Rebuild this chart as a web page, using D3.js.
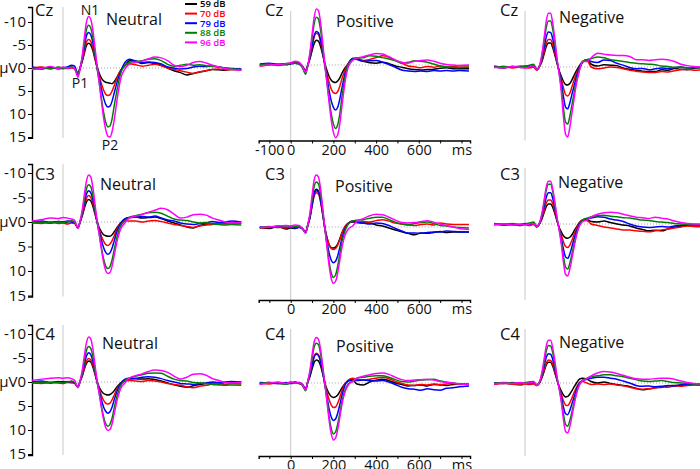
<!DOCTYPE html>
<html><head><meta charset="utf-8">
<script src="https://cdn.jsdelivr.net/npm/d3@7"></script>
<style>body{margin:0;background:#fff} text{font-family:"Open Sans",sans-serif}</style>
</head><body><svg id="c" width="700" height="469"></svg>
<script>
// ---- data (µV; negative plotted upward) ----
const times = [-145,-100,-60,-20,0,20,40,55,70,80,90,100,110,120,130,140,150,160,170,180,190,200,210,220,230,240,255,270,290,310,340,370,400,430,460,490,520,550,580,610,640,670,700,730,760,790,835];
const levels = ["59 dB","70 dB","79 dB","88 dB","96 dB"];
const electrodes = ["Cz","C3","C4"];
const conditions = ["Neutral","Positive","Negative"];
const yTickValues = [-10,-5,0,5,10,15];
const xTickLabels = [0,200,400,600];

const czNeutral = [
 [0.1,0.2,-0.1,0.0,0.1,-0.1,-0.2,0.2, 1.2,0.0,-1.4,-3.2,-4.9,-5.4,-5.0,-3.8,-1.9, -0.2,1.2,2.2,2.8,3.1,3.2,3.3,3.4,3.0,1.8,0.5, -0.5,-1.6,-1.5,-1.0,-1.2,-1.0,-0.6,0.0,0.6,1.0,1.5,1.2,0.9,0.6,0.3,0.4,0.5,0.3,0.3],
 [0.0,-0.2,0.1,-0.1,0.0,0.1,0.0,0.1, 1.0,0.0,-1.6,-3.7,-5.6,-6.2,-5.8,-4.4,-2.2, 0.0,1.8,3.4,4.8,5.7,6.0,5.8,5.0,3.8,1.9,0.5, -0.5,-0.9,-0.7,-0.4,-0.6,-0.8,-0.5,0.0,0.3,0.6,0.9,1.2,0.8,0.6,0.3,0.2,0.4,0.3,0.4],
 [-0.2,0.1,-0.1,0.2,0.0,-0.2,-0.6,-0.4, 1.5,0.0,-1.9,-4.6,-7.0,-7.7,-7.2,-5.5,-2.8, 0.0,2.3,4.6,6.5,7.9,8.5,8.3,7.2,5.4,2.8,0.8, -1.2,-1.9,-1.5,-1.2,-1.3,-1.2,-0.9,-0.2,0.0,0.2,0.1,-0.2,-0.4,-0.3,-0.5,-0.2,0.0,0.1,0.2],
 [0.1,-0.1,0.2,-0.2,0.1,0.0,-0.2,0.1, 1.3,0.0,-2.3,-5.6,-8.4,-9.3,-8.7,-6.6,-3.3, 0.2,3.3,6.6,9.6,11.8,12.8,12.6,11.0,8.2,4.3,1.2, -0.6,-1.2,-1.4,-1.6,-1.9,-2.0,-1.6,-0.8,-0.4,-0.6,-0.8,-0.6,-0.7,-0.5,-0.3,-0.2,0.0,0.2,0.3],
 [0.3,0.1,-0.3,0.1,-0.2,0.0,-0.1,0.2, 2.0,0.3,-2.6,-6.6,-10.0,-11.2,-10.6,-8.2,-4.4, -0.3,3.2,7.2,10.8,13.4,14.8,15.0,13.8,11.2,6.4,2.4, 0.2,-0.8,-1.2,-1.5,-2.0,-2.4,-2.2,-1.6,-0.6,-0.3,-0.6,-1.2,-1.4,-1.1,-0.6,-0.2,0.1,0.3,0.5]
];
const czPositive = [
 [0.1,-0.2,0.0,-0.3,-0.4,-0.6,-0.4,0.3, 1.2,0.1,-1.3,-3.1,-4.7,-5.4,-5.2,-4.0,-2.2, -0.3,1.2,2.5,3.3,3.7,3.8,3.5,2.8,1.8,0.6,-0.3, -1.2,-1.3,-0.8,-0.5,-0.4,-0.6,-0.3,0.2,0.5,0.8,1.0,1.1,1.0,0.9,0.7,0.6,0.8,0.8,0.8],
 [0.2,0.0,-0.2,0.0,-0.3,-0.5,-0.3,0.2, 1.2,0.0,-1.6,-4.0,-6.1,-6.9,-6.6,-5.0,-2.6, 0.0,2.0,3.8,5.2,6.0,6.2,5.8,4.6,3.0,1.0,-0.4, -1.4,-1.6,-1.0,-1.2,-1.6,-2.0,-1.7,-1.0,-0.4,0.2,0.4,0.6,0.3,0.5,0.2,0.4,0.3,0.2,0.2],
 [-0.2,-0.4,-0.1,-0.3,-0.2,-0.4,-0.2,0.4, 1.4,0.0,-1.7,-4.2,-6.4,-7.3,-7.0,-5.4,-2.8, 0.0,2.8,5.6,7.8,9.2,9.8,9.2,7.4,5.0,1.8,-0.2, -1.4,-1.2,-0.8,-0.9,-1.0,-0.6,-0.1,0.5,1.1,1.3,1.4,1.3,1.4,1.2,1.3,1.2,1.3,1.2,1.3],
 [0.0,-0.2,0.1,-0.2,-0.3,-0.4,-0.2,0.6, 2.0,0.2,-2.3,-5.7,-9.0,-10.4,-10.0,-7.6,-3.8, 0.2,3.8,7.4,10.6,12.8,13.8,13.0,10.6,7.0,2.6,-0.2, -1.2,-1.5,-1.6,-2.0,-1.9,-1.6,-1.3,-0.9,-0.4,-0.6,-0.9,-0.8,-0.6,-0.2,0.2,0.4,0.5,0.6,0.5],
 [0.2,0.0,-0.1,-0.3,-0.5,-0.8,-0.6,0.3, 1.6,0.2,-2.7,-6.6,-10.4,-12.2,-11.8,-9.2,-4.8, -0.2,4.0,8.2,12.0,14.6,15.8,15.2,12.8,9.0,3.6,0.4, -1.0,-1.5,-1.8,-2.2,-2.5,-2.4,-1.8,-1.1,-0.6,-0.4,-0.8,-1.0,-1.1,-0.8,-0.4,-0.1,0.0,0.1,0.0]
];
const czNegative = [
 [0.0,0.2,-0.1,0.1,0.0,-0.2,0.0,0.6, -0.3,-1.3,-2.9,-4.5,-5.2,-5.2,-4.2,-2.6,-0.8, 0.8,2.0,3.1,3.8,3.9,3.6,2.8,1.8,0.9,-0.3,-1.2, -1.6,-0.6,-0.2,-0.5,-0.4,-0.3,0.2,0.5,0.7,0.9,1.0,1.0,0.6,0.7,0.3,0.5,0.6,0.3,0.1],
 [0.1,-0.1,0.2,0.0,0.1,0.2,0.0,0.7, -0.3,-1.5,-3.4,-5.2,-6.0,-6.0,-4.9,-3.0,-0.9, 0.9,2.6,4.5,6.0,6.3,5.7,4.3,2.8,1.5,0.1,-1.2, -1.4,0.0,0.4,0.2,0.0,0.1,0.4,0.7,0.9,1.1,1.2,1.2,1.0,1.1,0.8,0.6,0.5,0.7,0.6],
 [-0.2,0.1,-0.1,0.0,-0.2,0.0,-0.3,0.5, -0.4,-2.0,-4.3,-6.6,-7.6,-7.5,-6.1,-3.8,-1.2, 0.9,3.2,6.4,8.7,9.1,7.8,5.9,4.1,2.2,0.3,-1.0, -1.6,-1.2,-1.0,-1.5,-1.4,-0.8,-0.4,0.1,0.4,0.3,0.6,0.4,0.2,0.3,0.1,0.0,0.2,0.1,0.0],
 [0.1,-0.1,0.0,-0.2,-0.1,-0.4,-0.6,0.4, -0.5,-2.6,-5.6,-8.7,-10.0,-10.0,-8.2,-5.1,-1.5, 1.3,4.4,8.8,12.0,12.4,10.7,8.2,5.7,3.2,0.6,-1.2, -1.6,-1.8,-2.2,-2.0,-1.6,-1.4,-1.2,-1.0,-0.8,-0.7,-0.6,-0.5,-0.2,-0.1,0.1,0.0,0.2,0.1,0.2],
 [0.0,0.2,-0.1,0.1,0.2,0.0,-0.2,0.6, -0.6,-3.0,-6.5,-10.1,-11.7,-11.7,-9.5,-6.0,-1.8, 1.5,5.4,10.8,14.6,15.2,13.1,10.0,6.9,3.9,0.8,-1.2, -1.2,-2.0,-3.0,-2.8,-2.6,-2.5,-2.5,-2.3,-1.6,-1.6,-1.4,-1.6,-1.7,-1.6,-1.2,-0.6,-0.3,-0.1,0.0]
];
const c3Neutral = [
 [0.1,0.0,0.2,-0.1,0.1,0.0,-0.2,0.1, 1.2,0.0,-1.2,-2.8,-4.1,-4.6,-4.3,-3.2,-1.6, 0.0,1.2,2.0,2.6,2.8,2.9,2.9,2.6,2.0,1.0,0.2, -0.6,-0.9,-1.0,-0.8,-0.9,-1.0,-0.7,-0.2,0.2,0.6,1.0,1.2,0.7,0.5,0.3,0.4,0.2,0.3,0.2],
 [0.2,0.3,0.0,0.3,0.2,0.4,0.2,0.3, 1.2,0.0,-1.4,-3.2,-4.8,-5.4,-5.0,-3.8,-1.9, 0.0,1.5,2.9,3.9,4.6,4.8,4.5,3.8,2.8,1.2,0.2, -0.3,-0.2,-0.2,0.0,-0.2,-0.3,-0.1,0.2,0.5,0.7,0.9,1.1,0.8,0.6,0.5,0.3,0.4,0.2,0.3],
 [0.0,-0.2,0.1,-0.1,0.0,-0.2,0.0,0.2, 1.1,0.0,-1.6,-3.8,-5.7,-6.4,-6.0,-4.5,-2.3, 0.0,1.9,3.7,5.2,6.2,6.6,6.3,5.3,3.8,1.7,0.3, -0.7,-0.9,-1.0,-1.1,-1.0,-1.2,-0.8,-0.4,-0.2,0.2,0.4,0.5,0.3,0.2,-0.1,0.1,0.0,-0.2,0.0],
 [0.1,0.0,0.2,0.0,0.1,-0.1,-0.2,0.1, 1.2,0.0,-1.9,-4.5,-6.8,-7.6,-7.2,-5.4,-2.7, 0.1,2.5,5.2,7.5,9.0,9.5,9.1,7.7,5.6,2.7,0.8, -0.2,-0.9,-1.3,-1.6,-1.9,-2.0,-1.8,-1.2,-0.6,-0.4,-0.3,0.0,0.2,0.1,0.4,0.5,0.6,0.5,0.6],
 [-0.2,-0.5,-0.8,-0.7,-0.9,-0.8,-0.6,-0.3, 1.3,-0.2,-2.4,-5.6,-8.4,-9.6,-9.2,-7.0,-3.6, -0.2,2.6,5.6,8.2,9.9,10.5,10.3,9.0,6.8,3.6,1.4, 0.2,-0.8,-1.2,-1.5,-2.0,-2.4,-2.8,-2.5,-1.6,-0.8,-1.0,-1.5,-1.6,-1.4,-0.8,-0.4,0.0,0.2,0.1]
];
const c3Positive = [
 [0.1,0.3,-0.1,0.4,0.2,0.3,0.0,0.4, 1.0,-0.4,-2.0,-4.6,-6.9,-7.7,-7.3,-5.6,-2.8, 0.2,2.2,3.6,4.2,4.3,4.1,3.5,2.4,1.2,-0.1,-0.8, -1.0,-0.9,-0.8,-0.8,-0.4,-0.2,0.2,0.6,1.0,1.3,1.6,1.2,1.3,1.1,0.9,1.1,1.0,1.0,1.0],
 [0.2,0.1,0.0,0.2,-0.1,0.1,0.0,0.3, 1.0,-0.3,-1.8,-4.2,-6.3,-7.0,-6.7,-5.1,-2.5, 0.2,2.2,3.7,4.4,4.6,4.4,3.7,2.6,1.3,-0.1,-0.8, -1.2,-0.9,-1.1,-1.0,-1.3,-1.5,-1.2,-0.8,-0.6,-0.4,-0.3,-0.5,-0.6,-0.4,-0.8,-0.6,-0.5,-0.5,-0.5],
 [0.0,0.1,-0.2,0.1,0.0,0.2,0.1,0.4, 1.0,-0.3,-1.9,-4.4,-6.7,-7.4,-7.1,-5.4,-2.7, 0.3,3.0,5.3,6.8,7.3,7.0,5.9,4.2,2.3,0.3,-0.7, -1.2,-1.0,-0.8,-0.6,-0.8,-0.7,-0.3,0.3,0.8,1.2,1.2,1.3,1.1,1.0,1.0,0.8,0.9,1.0,1.0],
 [0.2,-0.1,0.1,0.0,0.1,-0.1,0.0,0.3, 1.3,-0.4,-2.4,-5.5,-8.3,-9.2,-8.8,-6.7,-3.3, 0.3,3.8,7.1,9.4,10.3,9.8,8.0,5.5,3.0,0.7,-0.6, -1.2,-1.4,-1.5,-1.8,-2.0,-2.0,-1.5,-1.0,-0.6,-0.5,-0.7,-0.9,-1.0,-0.7,-0.3,-0.2,0.0,0.1,0.2],
 [0.1,0.0,-0.2,-0.3,-0.2,-0.4,-0.3,0.3, 1.2,-0.5,-2.8,-6.4,-9.6,-10.6,-10.2,-7.8,-3.9, 0.2,4.0,7.9,10.5,11.5,11.1,9.4,6.8,4.2,1.6,0.4, -0.2,-1.2,-1.7,-2.3,-2.6,-2.5,-2.0,-1.4,-0.9,-0.8,-0.9,-1.1,-1.3,-1.0,-0.6,-0.3,0.0,0.3,0.5]
];
const c3Negative = [
 [0.0,0.2,0.1,0.3,0.0,0.1,0.0,0.6, -0.2,-1.1,-2.4,-3.6,-4.1,-4.1,-3.4,-2.1,-0.6, 0.7,1.6,2.4,2.8,2.9,2.7,2.2,1.4,0.7,-0.3,-0.8, -0.9,-0.5,-0.4,-0.6,-0.3,0.0,0.2,0.4,0.8,1.1,1.4,1.3,1.4,1.0,0.6,0.5,0.3,0.2,0.2],
 [0.2,0.0,0.2,0.0,0.1,0.3,0.1,0.5, -0.2,-1.3,-2.8,-4.3,-4.9,-4.9,-4.1,-2.5,-0.7, 0.8,2.2,3.6,4.6,4.8,4.3,3.3,2.1,1.0,-0.2,-0.8, -0.7,0.0,0.3,0.6,0.8,1.0,1.2,1.2,1.4,1.5,1.6,1.4,1.2,1.0,0.8,0.6,0.4,0.5,0.6],
 [-0.1,0.1,0.0,0.2,-0.1,0.0,-0.2,0.5, -0.3,-1.7,-3.6,-5.5,-6.4,-6.4,-5.2,-3.2,-0.9, 0.9,2.9,5.1,6.7,7.0,6.1,4.6,3.0,1.6,0.0,-0.8, -1.0,-1.2,-1.5,-1.4,-1.0,-0.8,-0.5,0.0,0.4,0.6,0.7,0.6,0.5,0.6,0.4,0.3,0.2,0.1,0.2],
 [0.0,0.1,-0.1,0.2,0.0,-0.2,-0.4,0.4, -0.4,-2.1,-4.5,-7.0,-8.1,-8.1,-6.6,-4.0,-1.1, 1.0,3.6,6.6,8.8,9.2,8.0,6.1,4.1,2.2,0.3,-0.8, -1.2,-1.5,-1.7,-1.8,-1.6,-1.5,-1.3,-1.2,-1.0,-0.8,-0.7,-0.5,-0.4,-0.3,-0.1,0.0,0.1,0.2,0.1],
 [0.1,0.0,0.2,0.1,0.2,0.0,-0.1,0.5, -0.5,-2.3,-5.0,-7.6,-8.7,-8.7,-7.1,-4.4,-1.3, 1.2,4.1,7.8,10.3,10.6,9.2,7.0,4.7,2.6,0.4,-0.5, -0.8,-1.4,-2.0,-2.3,-2.4,-2.3,-2.0,-1.7,-1.4,-1.3,-1.1,-1.4,-1.2,-1.0,-0.6,-0.3,-0.1,0.0,0.0]
];
const c4Neutral = [
 [0.1,0.0,0.2,-0.1,0.1,-0.1,0.0,0.2, 1.0,-0.2,-1.2,-2.7,-3.9,-4.4,-4.2,-3.1,-1.6, 0.0,1.1,1.9,2.4,2.6,2.7,2.6,2.3,1.8,0.9,0.2, -0.4,-0.6,-0.7,-0.6,-0.7,-0.5,-0.2,0.2,0.6,0.9,1.1,0.8,0.5,0.3,0.2,0.4,0.1,0.2,0.1],
 [0.2,0.3,0.1,0.2,0.3,0.1,0.2,0.3, 1.0,-0.1,-1.3,-2.9,-4.3,-4.9,-4.6,-3.5,-1.8, 0.0,1.5,2.8,3.8,4.4,4.6,4.4,3.7,2.7,1.2,0.3, -0.2,-0.3,-0.2,-0.1,-0.3,-0.2,0.0,0.3,0.5,0.7,1.0,1.2,0.9,0.7,0.4,0.3,0.5,0.3,0.4],
 [0.0,-0.2,0.1,0.0,-0.1,0.0,-0.1,0.2, 1.0,-0.1,-1.5,-3.6,-5.4,-6.1,-5.7,-4.3,-2.2, 0.0,1.9,3.7,5.2,6.1,6.5,6.2,5.2,3.7,1.7,0.3, -0.6,-0.8,-0.8,-1.0,-1.1,-1.0,-0.7,-0.3,0.0,0.3,0.4,0.5,0.3,0.2,0.0,0.1,0.0,-0.1,0.0],
 [0.2,0.0,0.1,0.1,0.2,0.0,-0.2,0.1, 1.1,-0.1,-1.8,-4.4,-6.6,-7.4,-7.0,-5.3,-2.6, 0.1,2.4,5.0,7.2,8.7,9.2,8.8,7.5,5.4,2.6,0.8, -0.3,-0.8,-1.2,-1.5,-1.8,-1.9,-1.8,-1.2,-0.6,-0.3,-0.2,0.1,0.2,0.3,0.5,0.6,0.7,0.6,0.7],
 [-0.3,-0.6,-0.8,-0.9,-0.8,-0.9,-0.7,-0.3, 1.2,-0.3,-2.4,-5.5,-8.2,-9.4,-9.0,-6.9,-3.5, -0.2,2.5,5.4,7.8,9.5,10.1,9.9,8.7,6.6,3.5,1.4, 0.2,-0.8,-1.3,-1.7,-2.2,-2.5,-2.4,-2.0,-1.2,-0.6,-1.0,-1.6,-1.7,-1.4,-0.7,-0.3,0.1,0.2,0.1]
];
const c4Positive = [
 [0.2,-0.1,0.1,0.2,0.0,-0.2,0.1,0.4, 1.2,-0.2,-1.3,-2.9,-4.3,-4.8,-4.6,-3.6,-1.9, 0.0,1.3,2.2,2.8,3.0,2.9,2.5,1.8,1.0,0.1,-0.4, -0.6,0.2,0.4,-0.2,-0.6,-0.8,-0.5,0.0,0.3,0.6,0.5,0.4,0.6,0.3,0.4,0.5,0.3,0.2,0.3],
 [0.0,0.2,-0.1,0.1,-0.2,0.0,0.1,0.3, 1.3,-0.3,-1.8,-3.8,-5.6,-6.2,-5.9,-4.6,-2.3, 0.1,1.9,3.5,4.6,5.1,5.0,4.2,3.0,1.6,0.1,-0.6, -1.0,-0.8,-0.6,-0.8,-1.0,-1.2,-0.9,-0.3,0.1,0.4,0.5,0.3,0.4,0.2,0.3,0.2,0.1,0.3,0.2],
 [-0.1,0.0,0.1,-0.1,0.1,0.0,-0.1,0.3, 1.3,-0.2,-1.7,-3.7,-5.4,-6.0,-5.7,-4.4,-2.2, 0.3,2.9,5.4,7.1,7.8,7.5,6.3,4.5,2.6,0.4,-0.5, -0.7,-0.5,-0.6,-0.5,-0.4,-0.5,-0.2,0.3,0.9,1.2,1.3,1.5,1.2,1.4,1.5,1.1,1.0,0.8,0.6],
 [0.1,-0.1,0.0,0.2,0.0,-0.1,0.0,0.5, 1.6,-0.3,-2.2,-5.0,-7.5,-8.3,-8.0,-6.1,-3.0, 0.2,3.6,7.0,9.5,10.6,10.2,8.6,6.3,3.9,1.4,0.2, -0.4,-1.0,-1.2,-1.4,-1.5,-1.5,-1.2,-0.7,-0.3,-0.2,-0.4,-0.6,-0.7,-0.8,-0.4,-0.2,0.0,0.2,0.3],
 [0.3,0.0,-0.2,0.1,-0.2,0.0,-0.1,0.4, 1.4,-0.4,-2.6,-5.8,-8.6,-9.5,-9.1,-7.0,-3.5, 0.1,3.9,7.8,10.6,11.9,11.5,9.7,7.2,4.5,1.8,0.4, -0.3,-1.0,-1.4,-1.7,-2.0,-2.1,-1.8,-1.2,-0.7,-0.5,-0.6,-0.7,-0.8,-0.6,-0.3,-0.1,0.0,0.2,0.3]
];
const c4Negative = [
 [0.1,0.0,0.2,0.1,0.0,-0.1,0.0,0.5, -0.2,-1.2,-2.5,-3.8,-4.3,-4.3,-3.5,-2.1,-0.6, 0.7,1.7,2.5,2.9,2.8,2.3,1.6,0.8,0.1,-0.8,-1.0, -0.8,-0.3,0.0,-0.2,0.1,0.3,0.5,0.7,1.1,1.4,1.2,1.0,0.9,0.6,0.5,0.4,0.3,0.2,0.2],
 [0.3,0.1,0.2,0.4,0.2,0.3,0.2,0.5, -0.2,-1.3,-2.8,-4.2,-4.8,-4.7,-3.9,-2.4,-0.6, 0.9,2.3,3.7,4.6,4.7,4.1,3.1,2.0,1.0,-0.1,-0.3, 0.0,0.3,0.2,0.3,0.2,0.4,0.6,0.9,1.2,1.3,1.2,1.0,0.8,0.9,0.6,0.7,0.5,0.4,0.5],
 [0.0,0.1,-0.1,0.1,0.0,0.1,-0.1,0.4, -0.3,-1.7,-3.6,-5.4,-6.1,-6.0,-4.9,-3.0,-0.8, 0.9,2.8,5.0,6.4,6.6,5.7,4.3,2.9,1.5,0.0,-0.5, -0.8,-1.0,-1.2,-1.2,-1.0,-0.8,-0.4,0.0,0.5,0.7,0.6,0.8,0.7,0.5,0.6,0.4,0.3,0.3,0.2],
 [0.1,-0.1,0.0,0.1,-0.1,-0.2,-0.3,0.4, -0.4,-2.0,-4.3,-6.7,-7.8,-7.7,-6.3,-3.8,-1.0, 1.0,3.5,6.5,8.6,9.0,7.8,6.0,4.0,2.1,0.3,-0.6, -1.0,-1.3,-1.5,-1.7,-1.7,-1.5,-1.3,-1.0,-0.7,-0.4,-0.3,-0.4,-0.5,-0.3,-0.1,0.0,0.1,0.2,0.3],
 [0.2,0.0,0.1,-0.1,0.1,0.0,-0.2,0.5, -0.5,-2.4,-5.1,-7.8,-8.9,-8.9,-7.3,-4.5,-1.3, 1.2,4.0,7.6,10.1,10.4,9.1,6.9,4.6,2.5,0.4,-0.5, -0.9,-1.5,-2.1,-2.4,-2.3,-2.0,-1.6,-1.2,-0.9,-0.8,-0.8,-0.9,-1.0,-1.0,-0.8,-0.4,-0.1,0.1,0.2]
];
const panelData = [[czNeutral, czPositive, czNegative],[c3Neutral, c3Positive, c3Negative],[c4Neutral, c4Positive, c4Negative]];

// ---- layout / style ----
const colors = ["#000000","#ff0000","#0000ff","#008000","#ff00ff"];
const colZero = [63, 290.7, 525];
const pxPerMs = 0.2135;
const rowZero = [[68,65,67],[222,227,224],[382,383,383]];
const rowK = [4.6, 4.9, 4.8];
const rowTop = [7, 164, 325];
const rowAxisY = [140.5, 300, 456];
const labelFont = "Open Sans, sans-serif";

const svg = d3.select("#c");
svg.append("rect").attr("width",700).attr("height",469).attr("fill","#fff");

for (let r = 0; r < 3; r++) {
  for (let c = 0; c < 3; c++) {
    const x = d3.scaleLinear().domain([-150, 840]).range([colZero[c] - 150*pxPerMs, colZero[c] + 840*pxPerMs]);
    const y0 = rowZero[r][c], k = rowK[r];
    const y = d3.scaleLinear().domain([-10, 15]).range([y0 - 10*k, y0 + 15*k]);
    const g = svg.append("g");
    const bottom = (c === 0) ? y(15.2) : rowAxisY[r];
    // zero-time line
    g.append("line").attr("x1", x(0)).attr("x2", x(0)).attr("y1", rowTop[r] + (c===0?0:4)).attr("y2", bottom)
      .attr("stroke", "#c8c8c8").attr("stroke-width", 1);
    // zero µV dotted line
    g.append("line").attr("x1", x(-145)).attr("x2", Math.min(x(835), 700)).attr("y1", y(0)).attr("y2", y(0))
      .attr("stroke", "#8a8a8a").attr("stroke-width", 0.8).attr("stroke-dasharray", "1,2");

    if (c === 0) {
      const yAxisScale = d3.scaleLinear().domain([ (rowTop[r]-y0)/k, 15.2 ]).range([rowTop[r], y(15.2)]);
      const ax = g.append("g").attr("transform", "translate(32,0)");
      ax.call(d3.axisLeft(yAxisScale).tickValues(d3.range(-12, 16, 1)).tickSize(2).tickFormat(""));
      ax.call(d3.axisLeft(yAxisScale).tickValues(yTickValues).tickSize(4).tickPadding(2).tickFormat(d => d));
      ax.selectAll("path.domain").attr("stroke", "#000").attr("stroke-width", 1.4);
      ax.selectAll(".tick line").attr("stroke", "#000");
      ax.selectAll(".tick text").attr("font-family", labelFont).attr("font-size", 15).attr("fill", "#111")
        .text(d => d === 0 ? "µV0" : d);
    }
    if (c === 1) {
      const ax = g.append("g").attr("transform", `translate(0,${rowAxisY[r]})`);
      ax.call(d3.axisBottom(x).tickValues(d3.range(-150, 841, 50)).tickSize(2).tickFormat(""));
      const labVals = r === 0 ? [-100].concat(xTickLabels) : xTickLabels;
      ax.call(d3.axisBottom(x).tickValues(d3.range(-100, 801, 100)).tickSize(3).tickPadding(1)
        .tickFormat(d => labVals.includes(d) ? d : (d === 800 ? "ms" : "")));
      ax.selectAll("path.domain").attr("stroke", "#000").attr("stroke-width", 1.4);
      ax.selectAll(".tick line").attr("stroke", "#000");
      ax.selectAll(".tick text").attr("font-family", labelFont).attr("font-size", 14.5).attr("fill", "#111");
    }

    // traces
    const line = d3.line().x((d, i) => x(times[i])).y(d => y(d)).curve(d3.curveMonotoneX);
    panelData[r][c].forEach((series, s) => {
      g.append("path").datum(series).attr("d", line).attr("fill", "none")
        .attr("stroke", colors[s]).attr("stroke-width", 1.5).attr("stroke-linejoin", "round");
    });
  }
}

// electrode & condition labels
const elecX = [35, 265, 500];
const elecBase = [16, 180, 340];
const condX = [[106,336,559],[100,335,558],[102,336,559]];
const condBase = [[25,27,23],[190,192,188],[349,352,348]];
for (let r = 0; r < 3; r++) {
  for (let c = 0; c < 3; c++) {
    svg.append("text").attr("x", elecX[c]).attr("y", elecBase[r]).text(electrodes[r])
      .attr("font-size", 16.5).attr("fill", "#111").attr("font-family", labelFont);
    svg.append("text").attr("x", condX[r][c]).attr("y", condBase[r][c]).text(conditions[c])
      .attr("font-size", 16).attr("font-weight", 500).attr("fill", "#111").attr("font-family", labelFont);
  }
}

// component annotations
[["N1", 90, 15], ["P1", 80, 88], ["P2", 110, 150]].forEach(([t, ax, ay]) => {
  svg.append("text").attr("x", ax).attr("y", ay).attr("text-anchor", "middle").text(t)
    .attr("font-size", 14).attr("fill", "#111").attr("font-family", labelFont);
});

// legend
const legY = [4, 13.6, 23.2, 32.8, 42.4];
levels.forEach((lab, i) => {
  svg.append("line").attr("x1", 185).attr("x2", 197).attr("y1", legY[i]).attr("y2", legY[i])
    .attr("stroke", colors[i]).attr("stroke-width", 2);
  svg.append("text").attr("x", 200).attr("y", legY[i] + 3.3).text(lab)
    .attr("font-size", 9.5).attr("font-weight", 600).attr("fill", colors[i]).attr("font-family", labelFont);
});
</script></body></html>
